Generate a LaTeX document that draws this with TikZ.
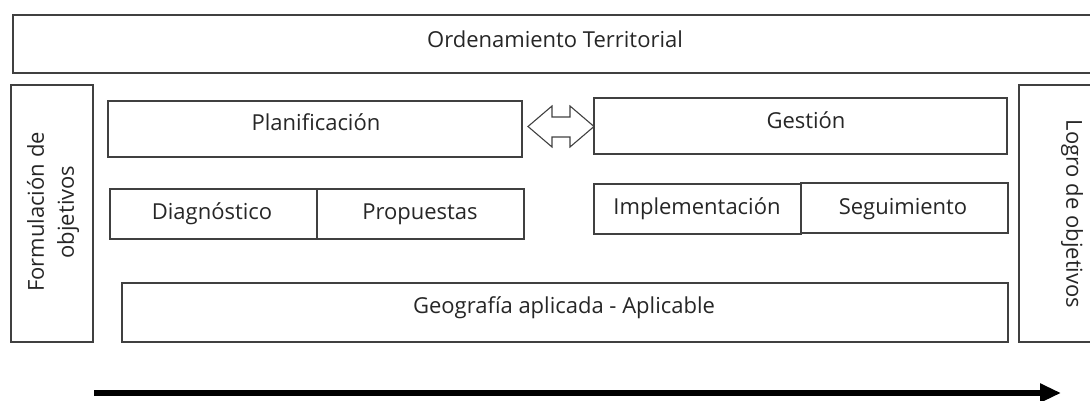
\documentclass[tikz,border=0pt]{standalone}
\usepackage{fontspec}
\setmainfont{Open Sans}
\usetikzlibrary{arrows.meta}
\begin{document}
\begin{tikzpicture}[x=1pt,y=-1pt,
  bx/.style={draw=black!75,line width=1.3pt},
  lbl/.style={inner sep=0pt,font=\fontsize{22}{30}\selectfont,text=black!85},
  bl/.style={lbl,anchor=base},
  rot/.style={lbl,align=center}]
\useasboundingbox (0,0) rectangle (1090,401);
% open boxes reaching the right edge
\draw[bx] (1091,15) -- (13,15) -- (13,73) -- (1091,73);
\node[bl] (ot) at (555,48) {Ordenamiento Territorial};
\draw[bx] (1091,85) -- (1019,85) -- (1019,342) -- (1091,342);
\node[lbl,rotate=-90] (lo) at (1072,214) {Logro de objetivos};
% left box
\draw[bx] (11,85) rectangle (93,342);
\node[rot,rotate=90] (fo) at (53,212) {Formulación de\\objetivos};
% main boxes
\draw[bx] (108,101) rectangle (522,157);
\node[bl] (pl) at (316,131) {Planificación};
\draw[bx] (594,98) rectangle (1007,154);
\node[bl] (ge) at (806,129) {Gestión};
\draw[bx] (110,189) rectangle (317,239);
\node[bl] (di) at (212,219) {Diagnóstico};
\draw[bx] (317,189) rectangle (524,239);
\node[bl] (pr) at (420,219) {Propuestas};
\draw[bx] (594,184) rectangle (801,234);
\node[bl] (im) at (697,214) {Implementación};
\draw[bx] (801,183) rectangle (1008,233);
\node[bl] (se) at (903,214) {Seguimiento};
\draw[bx] (122,283) rectangle (1008,342);
\node[bl] (gg) at (564,313) {Geografía aplicada - Aplicable};
% double arrow
\draw[draw=black!75,line width=1.1pt,line join=miter]
  (528,126.5) -- (552,106) -- (552,117) -- (570,117) -- (570,106) -- (594,126.5)
  -- (570,147) -- (570,137) -- (552,137) -- (552,147) -- cycle;
% time arrow
\coordinate (as) at (94,393);
\coordinate (ae) at (1061,393);
\draw[line width=6.5pt,-{Triangle[length=21pt,width=18pt]}] (as) -- (ae);
\end{tikzpicture}
\end{document}
